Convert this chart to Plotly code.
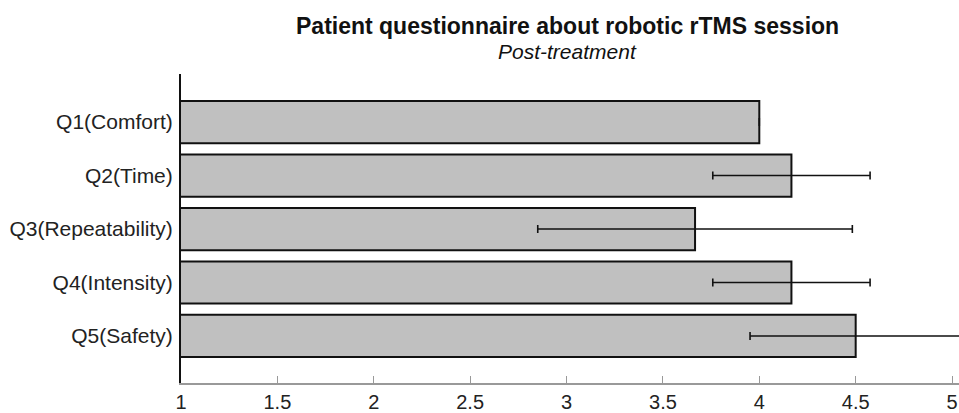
import plotly.graph_objects as go

categories = ["Q1(Comfort)", "Q2(Time)", "Q3(Repeatability)", "Q4(Intensity)", "Q5(Safety)"]
means = [4.0, 4.1667, 3.6667, 4.1667, 4.5]
errors = [0.0, 0.408, 0.816, 0.408, 0.548]
x_ticks = [1, 1.5, 2, 2.5, 3, 3.5, 4, 4.5, 5]
x_tick_labels = ["1", "1.5", "2", "2.5", "3", "3.5", "4", "4.5", "5"]
title_text = "Patient questionnaire about robotic rTMS session"
subtitle_text = "Post-treatment"

W, H = 959, 413
L, R, T, B = 181, 0, 74, 413 - 383
plot_h = H - T - B
plot_w = W - L - R

def py_to_paper(py):
    return (H - B - py) / plot_h

def px_to_paper(px):
    return (px - L) / plot_w

fig = go.Figure()
fig.add_trace(go.Bar(
    y=categories, x=means, orientation="h",
    marker=dict(color="#c0c0c0", line=dict(color="#111111", width=2)),
    width=0.79,
    error_x=dict(type="data", array=errors, visible=True, color="#111111",
                 thickness=1.6, width=4),
    showlegend=False,
))

font_family = "Liberation Sans, Arial, sans-serif"
fig.update_layout(
    width=W, height=H,
    margin=dict(l=L, r=R, t=T, b=B, pad=0, autoexpand=False),
    plot_bgcolor="white", paper_bgcolor="white",
    font=dict(family=font_family, size=21, color="#222222"),
    bargap=0.21,
    xaxis=dict(range=[1, 5.036], tickmode="array", tickvals=x_ticks, ticktext=x_tick_labels,
               automargin=False,
               showgrid=False, zeroline=False, showline=True, linecolor="#999999", linewidth=1.5,
               ticks="inside", ticklen=7, tickcolor="#999999", tickwidth=1,
               tickfont=dict(size=20, color="#222222"), ticklabelstandoff=0),
    yaxis=dict(categoryorder="array", categoryarray=categories, range=[4.88, -0.9],
               automargin=False,
               showgrid=False, zeroline=False, showline=True, linecolor="#111111", linewidth=2,
               ticks="", tickfont=dict(size=21, color="#222222"), ticklabelstandoff=2),
    annotations=[
        dict(text="<b>" + title_text + "</b>", xref="paper", yref="paper",
             x=px_to_paper(567), y=py_to_paper(26), xanchor="center", yanchor="middle",
             showarrow=False, font=dict(size=23, color="#111111", family=font_family)),
        dict(text="<i>" + subtitle_text + "</i>", xref="paper", yref="paper",
             x=px_to_paper(567), y=py_to_paper(51), xanchor="center", yanchor="middle",
             showarrow=False, font=dict(size=21, color="#111111", family=font_family)),
    ],
)

fig.write_html(
    "out.html",
    config={"displayModeBar": False},
    post_script="document.body.style.margin='0';document.body.style.overflow='hidden';",
)
